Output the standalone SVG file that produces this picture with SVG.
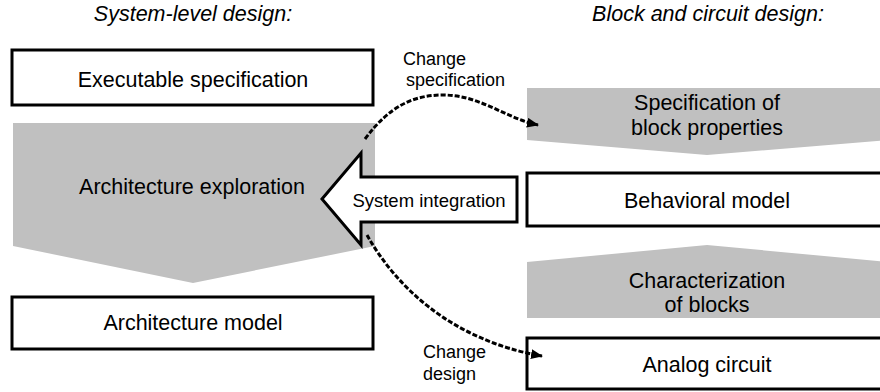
<svg xmlns="http://www.w3.org/2000/svg" width="880" height="392" viewBox="0 0 880 392">
<style>
text{font-family:"Liberation Sans",Arial,sans-serif;fill:#000}
.hdr{font-size:21.5px;font-style:italic;text-anchor:middle}
.lbl{font-size:21.5px;text-anchor:middle}
.sm{font-size:18px}
.box{fill:#fff;stroke:#000;stroke-width:3}
.gray{fill:#c0c0c0;stroke:none}
.dash{fill:none;stroke:#000;stroke-width:3;stroke-dasharray:5 2}
</style>
<defs>
<marker id="ah" viewBox="0 0 12 10" refX="11" refY="5" markerWidth="12" markerHeight="10" markerUnits="userSpaceOnUse" orient="auto">
<path d="M0,0 L12,5 L0,10 Z" fill="#000"/>
</marker>
</defs>
<g id="headers">
<text class="hdr" x="193" y="21">System-level design:</text>
<text class="hdr" x="708" y="21">Block and circuit design:</text>
</g>
<g id="exec-spec">
<rect class="box" x="12" y="50" width="361" height="55"/>
<text class="lbl" x="193" y="87">Executable specification</text>
</g>
<g id="arch-exploration">
<polygon class="gray" points="13,123 375,123 375,246 193,283 13,246"/>
<text class="lbl" x="192" y="194">Architecture exploration</text>
</g>
<g id="arch-model">
<rect class="box" x="12" y="297" width="361" height="52"/>
<text class="lbl" x="193" y="330">Architecture model</text>
</g>
<g id="block-spec">
<polygon class="gray" points="527,88 888,88 888,140 707,155 527,140"/>
<text class="lbl" x="707" y="110">Specification of</text>
<text class="lbl" x="707" y="135">block properties</text>
</g>
<g id="behavioral-model">
<rect class="box" x="527" y="173" width="361" height="53"/>
<text class="lbl" x="707" y="208">Behavioral model</text>
</g>
<g id="characterization">
<polygon class="gray" points="707,245 888,262 888,318 527,318 527,262"/>
<text class="lbl" x="707" y="288">Characterization</text>
<text class="lbl" x="707" y="312">of blocks</text>
</g>
<g id="analog-circuit">
<rect class="box" x="527" y="338" width="361" height="51"/>
<text class="lbl" x="707" y="372">Analog circuit</text>
</g>
<g id="system-integration">
<polygon class="box" stroke-linejoin="miter" points="322,199 361,153 361,177 517,177 517,222 361,222 361,245"/>
<text class="lbl sm" x="429" y="207" style="font-size:18.5px">System integration</text>
</g>
<g id="connectors">
<path class="dash" d="M365,139 C390,105 415,95 443,95 C480,95 505,118 538,125" marker-end="url(#ah)"/>
<path class="dash" d="M367,235 C395,285 450,340 542,356" marker-end="url(#ah)"/>
</g>
<g id="connector-labels">
<text class="sm" x="403" y="65">Change</text>
<text class="sm" x="406" y="86">specification</text>
<text class="sm" x="423" y="358">Change</text>
<text class="sm" x="423" y="380">design</text>
</g>
</svg>
